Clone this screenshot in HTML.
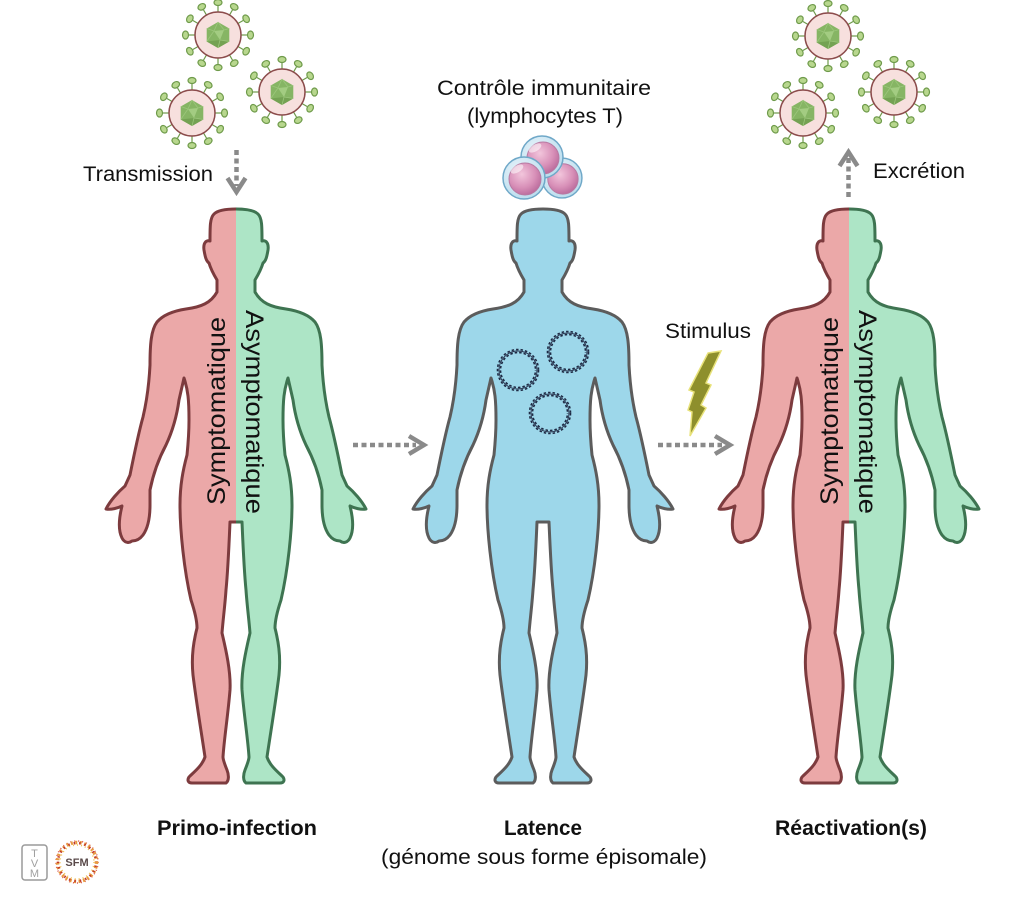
<!DOCTYPE html>
<html>
<head>
<meta charset="utf-8">
<style>
  html,body{margin:0;padding:0;background:#fff;}
  svg{display:block;}
  text{font-family:"Liberation Sans",sans-serif;fill:#111;}
</style>
</head>
<body>
<svg width="1024" height="900" viewBox="0 0 1024 900" xmlns="http://www.w3.org/2000/svg">
<defs>
  <path id="half" d="M 0 209
    C -10 209, -18 210, -22 214
    C -26 218, -26 226, -26 241
    C -30 240, -33 243, -32 250
    C -31 256, -30 261, -27 263
    C -25 270, -22 275, -19 280
    L -19 292
    C -25 303, -35 307, -50 309
    C -63 311, -73 315, -79 322
    C -85 330, -86 345, -86 365
    C -87 385, -89 400, -93 417
    C -98 435, -102 455, -106 475
    L -111 486
    C -118 492, -126 501, -130 509
    C -125 510, -118 508, -114 506
    C -117 518, -118 530, -114 538
    C -112 542, -108 544, -104 541
    C -100 541, -96 539, -93 535
    C -88 528, -86 518, -86 505
    L -86 490
    C -83 475, -78 460, -70 445
    C -63 430, -59 415, -57 400
    L -52 378
    C -48 390, -47 400, -47 420
    C -47 435, -48 445, -49 455
    C -53 470, -56 485, -56 505
    C -56 530, -52 570, -45 600
    C -41 612, -39 620, -39 628
    C -42 640, -45 655, -43 675
    C -40 700, -35 730, -31 757
    C -34 766, -42 772, -47 777
    C -49 780, -48 783, -44 783
    L -10 783
    C -7 781, -7 775, -9 770
    C -11 765, -13 760, -13 757
    C -12 740, -8 715, -6 690
    C -5 672, -10 650, -14 633
    C -13 620, -11 605, -10 590
    C -8 570, -7 545, -6 522
    L 0 522"/>

  <g id="virus">
    <g stroke="#6e9a4a" stroke-width="1.2" fill="#b8d78e">
      <g transform="rotate(0)"><line x1="0" y1="-23" x2="0" y2="-29"/><ellipse cy="-32.5" rx="4" ry="3"/></g>
      <g transform="rotate(30)"><line x1="0" y1="-23" x2="0" y2="-29"/><ellipse cy="-32.5" rx="4" ry="3"/></g>
      <g transform="rotate(60)"><line x1="0" y1="-23" x2="0" y2="-29"/><ellipse cy="-32.5" rx="4" ry="3"/></g>
      <g transform="rotate(90)"><line x1="0" y1="-23" x2="0" y2="-29"/><ellipse cy="-32.5" rx="4" ry="3"/></g>
      <g transform="rotate(120)"><line x1="0" y1="-23" x2="0" y2="-29"/><ellipse cy="-32.5" rx="4" ry="3"/></g>
      <g transform="rotate(150)"><line x1="0" y1="-23" x2="0" y2="-29"/><ellipse cy="-32.5" rx="4" ry="3"/></g>
      <g transform="rotate(180)"><line x1="0" y1="-23" x2="0" y2="-29"/><ellipse cy="-32.5" rx="4" ry="3"/></g>
      <g transform="rotate(210)"><line x1="0" y1="-23" x2="0" y2="-29"/><ellipse cy="-32.5" rx="4" ry="3"/></g>
      <g transform="rotate(240)"><line x1="0" y1="-23" x2="0" y2="-29"/><ellipse cy="-32.5" rx="4" ry="3"/></g>
      <g transform="rotate(270)"><line x1="0" y1="-23" x2="0" y2="-29"/><ellipse cy="-32.5" rx="4" ry="3"/></g>
      <g transform="rotate(300)"><line x1="0" y1="-23" x2="0" y2="-29"/><ellipse cy="-32.5" rx="4" ry="3"/></g>
      <g transform="rotate(330)"><line x1="0" y1="-23" x2="0" y2="-29"/><ellipse cy="-32.5" rx="4" ry="3"/></g>
    </g>
    <circle r="23" fill="#f7e0de" stroke="#8c4c4c" stroke-width="1.5"/>
    <polygon points="0,-13 11.3,-6.5 11.3,6.5 0,13 -11.3,6.5 -11.3,-6.5" fill="#86b564"/>
    <polygon points="-4,-4 6,-5 2,5" fill="#a3cc82"/>
    <polygon points="-11.3,6.5 0,13 11.3,6.5 2,5" fill="#74a253"/>
    <g stroke="#9cc67c" stroke-width="0.8" fill="none">
      <line x1="0" y1="-13" x2="-4" y2="-4"/>
      <line x1="0" y1="-13" x2="6" y2="-5"/>
      <line x1="11.3" y1="-6.5" x2="6" y2="-5"/>
      <line x1="-11.3" y1="-6.5" x2="-4" y2="-4"/>
      <line x1="-11.3" y1="6.5" x2="-4" y2="-4"/>
      <line x1="11.3" y1="6.5" x2="2" y2="5"/>
      <line x1="0" y1="13" x2="2" y2="5"/>
    </g>
  </g>

  <radialGradient id="nuc" cx="40%" cy="35%" r="70%">
    <stop offset="0" stop-color="#f2c6dc"/>
    <stop offset="0.6" stop-color="#d890b8"/>
    <stop offset="1" stop-color="#b8689a"/>
  </radialGradient>
  <radialGradient id="cyto" cx="40%" cy="35%" r="70%">
    <stop offset="0" stop-color="#eaf5fb"/>
    <stop offset="1" stop-color="#b9dced"/>
  </radialGradient>
  <g id="lym">
    <circle r="21" fill="url(#cyto)" stroke="#6fa8c8" stroke-width="1.5"/>
    <circle cx="1" cy="1" r="16" fill="url(#nuc)" stroke="#b77aa2" stroke-width="1"/>
    <ellipse cx="-7" cy="-9" rx="7" ry="3.5" fill="#fff" opacity="0.55" transform="rotate(-30 -7 -9)"/>
  </g>

  <g id="dna">
    <circle r="19" fill="none" stroke="#2a3550" stroke-width="1"/>
    <circle r="20.5" fill="none" stroke="#1e2a44" stroke-width="1.6" stroke-dasharray="2.5 2"/>
    <circle r="17.5" fill="none" stroke="#1e2a44" stroke-width="1.6" stroke-dasharray="2.5 2" stroke-dashoffset="2"/>
  </g>
</defs>

<!-- Viruses left group -->
<use href="#virus" transform="translate(218,35)"/>
<use href="#virus" transform="translate(282,92)"/>
<use href="#virus" transform="translate(192,113)"/>

<!-- Viruses right group -->
<use href="#virus" transform="translate(828,36)"/>
<use href="#virus" transform="translate(894,92)"/>
<use href="#virus" transform="translate(803,113)"/>

<!-- Lymphocytes -->
<use href="#lym" transform="translate(562,178) scale(0.95)"/>
<use href="#lym" transform="translate(542,157)"/>
<use href="#lym" transform="translate(524,178)"/>

<!-- Left figure -->
<g stroke-width="3" stroke-linejoin="round">
  <use href="#half" transform="translate(236,0)" fill="#eba8a8" stroke="#7d3b3e"/>
  <use href="#half" transform="translate(236,0) scale(-1,1)" fill="#ade5c6" stroke="#3e7451"/>
</g>
<!-- Center figure -->
<g stroke-width="3" stroke-linejoin="round">
  <use href="#half" transform="translate(543,0)" fill="#9dd7ea" stroke="#5c5c5c"/>
  <use href="#half" transform="translate(543,0) scale(-1,1)" fill="#9dd7ea" stroke="#5c5c5c"/>
</g>
<!-- Right figure -->
<g stroke-width="3" stroke-linejoin="round">
  <use href="#half" transform="translate(849,0)" fill="#eba8a8" stroke="#7d3b3e"/>
  <use href="#half" transform="translate(849,0) scale(-1,1)" fill="#ade5c6" stroke="#3e7451"/>
</g>

<!-- DNA episomes -->
<use href="#dna" transform="translate(518,370)"/>
<use href="#dna" transform="translate(568,352)"/>
<use href="#dna" transform="translate(550,413)"/>

<!-- Vertical body labels -->
<text transform="translate(225,505) rotate(-90)" font-size="25" textLength="188" lengthAdjust="spacingAndGlyphs">Symptomatique</text>
<text transform="translate(246,310) rotate(90)" font-size="25" textLength="204" lengthAdjust="spacingAndGlyphs">Asymptomatique</text>
<text transform="translate(838,505) rotate(-90)" font-size="25" textLength="188" lengthAdjust="spacingAndGlyphs">Symptomatique</text>
<text transform="translate(859,310) rotate(90)" font-size="25" textLength="204" lengthAdjust="spacingAndGlyphs">Asymptomatique</text>

<!-- Arrows -->
<g stroke="#8a8a8a" stroke-width="4.5" fill="none">
  <!-- transmission -->
  <line x1="236.5" y1="150" x2="236.5" y2="186" stroke-dasharray="5 3.5"/>
  <polyline points="227.5,178 236.5,192 245.5,178" stroke-linejoin="miter"/>
  <!-- excretion -->
  <line x1="848.5" y1="197" x2="848.5" y2="158" stroke-dasharray="5 3.5"/>
  <polyline points="839.5,166 848.5,152 857.5,166" stroke-linejoin="miter"/>
  <!-- horizontal 1 -->
  <line x1="353" y1="445" x2="416" y2="445" stroke-dasharray="5 3.5"/>
  <polyline points="409,436 424,445 409,454" stroke-linejoin="miter"/>
  <!-- horizontal 2 -->
  <line x1="658" y1="445" x2="722" y2="445" stroke-dasharray="5 3.5"/>
  <polyline points="715,436 730,445 715,454" stroke-linejoin="miter"/>
</g>

<!-- Lightning bolt -->
<polygon points="708,353 721,351 706,383 711,385 701,405 706,408 690,436 692,412 688,410 694,392 689,390 708,353"
  fill="#8e8f2c" stroke="#e8e27a" stroke-width="1.5" stroke-linejoin="miter"/>

<!-- Labels -->
<text x="83" y="181" font-size="21" textLength="130" lengthAdjust="spacingAndGlyphs">Transmission</text>
<text x="437" y="95" font-size="21" textLength="214" lengthAdjust="spacingAndGlyphs">Contrôle immunitaire</text>
<text x="467" y="123" font-size="21" textLength="156" lengthAdjust="spacingAndGlyphs">(lymphocytes T)</text>
<text x="873" y="178" font-size="21" textLength="92" lengthAdjust="spacingAndGlyphs">Excrétion</text>
<text x="665" y="338" font-size="21" textLength="86" lengthAdjust="spacingAndGlyphs">Stimulus</text>

<text x="157" y="835" font-size="21" font-weight="bold" textLength="160" lengthAdjust="spacingAndGlyphs">Primo-infection</text>
<text x="504" y="835" font-size="21" font-weight="bold" textLength="78" lengthAdjust="spacingAndGlyphs">Latence</text>
<text x="381" y="864" font-size="21" textLength="326" lengthAdjust="spacingAndGlyphs">(génome sous forme épisomale)</text>
<text x="775" y="835" font-size="21" font-weight="bold" textLength="152" lengthAdjust="spacingAndGlyphs">Réactivation(s)</text>

<!-- Logos -->
<rect x="22" y="845" width="25" height="35" rx="3" fill="#fff" stroke="#9a9a9a" stroke-width="1.5"/>
<text x="34.5" y="857" font-size="11" text-anchor="middle" style="fill:#a0a0a0">T</text>
<text x="34.5" y="867" font-size="11" text-anchor="middle" style="fill:#a0a0a0">V</text>
<text x="34.5" y="877" font-size="11" text-anchor="middle" style="fill:#a0a0a0">M</text>

<g transform="translate(77,862)">
  <circle r="22" fill="#fff"/>
  <circle r="21" fill="none" stroke="#d9534f" stroke-width="1.5" stroke-dasharray="1 3"/>
  <circle r="19.5" fill="none" stroke="#e89a40" stroke-width="3.5" stroke-dasharray="2 2.5"/>
  <circle r="19" fill="none" stroke="#c0392b" stroke-width="2.5" stroke-dasharray="1.5 4" stroke-dashoffset="2"/>
  <circle r="17" fill="none" stroke="#f0c050" stroke-width="1.5" stroke-dasharray="1 3"/>
  <circle r="15" fill="#fff"/>
  <text x="0" y="4" font-size="11" font-weight="bold" text-anchor="middle" style="fill:#5a4a4a">SFM</text>
</g>
</svg>
</body>
</html>
